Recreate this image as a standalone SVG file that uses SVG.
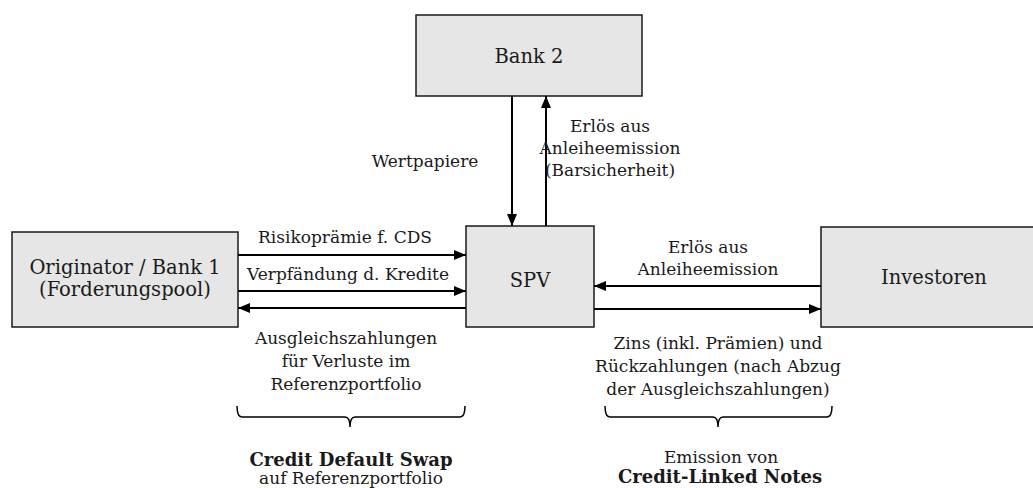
<svg xmlns="http://www.w3.org/2000/svg" width="1033" height="488" viewBox="0 0 1033 488">
<style>
.box{fill:#e6e6e6;stroke:#1a1a1a;stroke-width:1.5}
.node{font-family:"DejaVu Serif","Liberation Serif",serif;font-size:19.5px;fill:#1a1a1a;text-anchor:middle}
.lbl{font-family:"DejaVu Serif","Liberation Serif",serif;font-size:17px;fill:#1a1a1a;text-anchor:middle}
.b{font-weight:bold;font-size:18px}
.arr{stroke:#000;stroke-width:2;fill:none;marker-end:url(#ah)}
.brace{stroke:#000;stroke-width:1.5;fill:none}
</style>
<defs>
<marker id="ah" markerUnits="userSpaceOnUse" markerWidth="12" markerHeight="10" refX="12" refY="5" orient="auto">
<path d="M0,0 L12,5 L0,10 Z" fill="#000"/>
</marker>
</defs>
<rect width="1033" height="488" fill="#fff"/>
<g id="bank2">
<rect class="box" x="416" y="15" width="226" height="81"/>
<text class="node" x="529" y="63">Bank 2</text>
</g>
<g id="originator">
<rect class="box" x="12" y="232" width="226" height="95"/>
<text class="node" x="125" y="274">Originator / Bank 1</text>
<text class="node" x="125" y="296">(Forderungspool)</text>
</g>
<g id="spv">
<rect class="box" x="466" y="226" width="128" height="101"/>
<text class="node" x="530" y="287">SPV</text>
</g>
<g id="investoren">
<rect class="box" x="821" y="227" width="215" height="100"/>
<text class="node" x="934" y="284">Investoren</text>
</g>
<g id="connectors">
<line class="arr" x1="512" y1="96" x2="512" y2="226"/>
<line class="arr" x1="546" y1="226" x2="546" y2="96"/>
<line class="arr" x1="238" y1="255" x2="466" y2="255"/>
<line class="arr" x1="238" y1="291" x2="466" y2="291"/>
<line class="arr" x1="466" y1="308" x2="238" y2="308"/>
<line class="arr" x1="821" y1="286" x2="594" y2="286"/>
<line class="arr" x1="594" y1="309" x2="821" y2="309"/>
</g>
<g id="labels">
<text class="lbl" x="425" y="167">Wertpapiere</text>
<text class="lbl" x="610" y="132">Erlös aus</text>
<text class="lbl" x="610" y="154">Anleiheemission</text>
<text class="lbl" x="610" y="176">(Barsicherheit)</text>
<text class="lbl" x="345" y="243">Risikoprämie f. CDS</text>
<text class="lbl" x="348" y="280">Verpfändung d. Kredite</text>
<text class="lbl" x="346" y="344">Ausgleichszahlungen</text>
<text class="lbl" x="346" y="367">für Verluste im</text>
<text class="lbl" x="346" y="390">Referenzportfolio</text>
<text class="lbl" x="708" y="253">Erlös aus</text>
<text class="lbl" x="708" y="275">Anleiheemission</text>
<text class="lbl" x="718" y="349">Zins (inkl. Prämien) und</text>
<text class="lbl" x="718" y="372">Rückzahlungen (nach Abzug</text>
<text class="lbl" x="718" y="395">der Ausgleichszahlungen)</text>
</g>
<g id="cds-brace">
<path class="brace" d="M237,406 Q237,417 242,417 L345,417 Q350,417 350,427 Q350,417 355,417 L460,417 Q465,417 465,406"/>
<text class="lbl b" x="351" y="466">Credit Default Swap</text>
<text class="lbl" x="351" y="484">auf Referenzportfolio</text>
</g>
<g id="cln-brace">
<path class="brace" d="M605,406 Q605,417 610,417 L713,417 Q718,417 718,427 Q718,417 723,417 L827,417 Q832,417 832,406"/>
<text class="lbl" x="721" y="463">Emission von</text>
<text class="lbl b" x="720" y="483">Credit-Linked Notes</text>
</g>
</svg>
